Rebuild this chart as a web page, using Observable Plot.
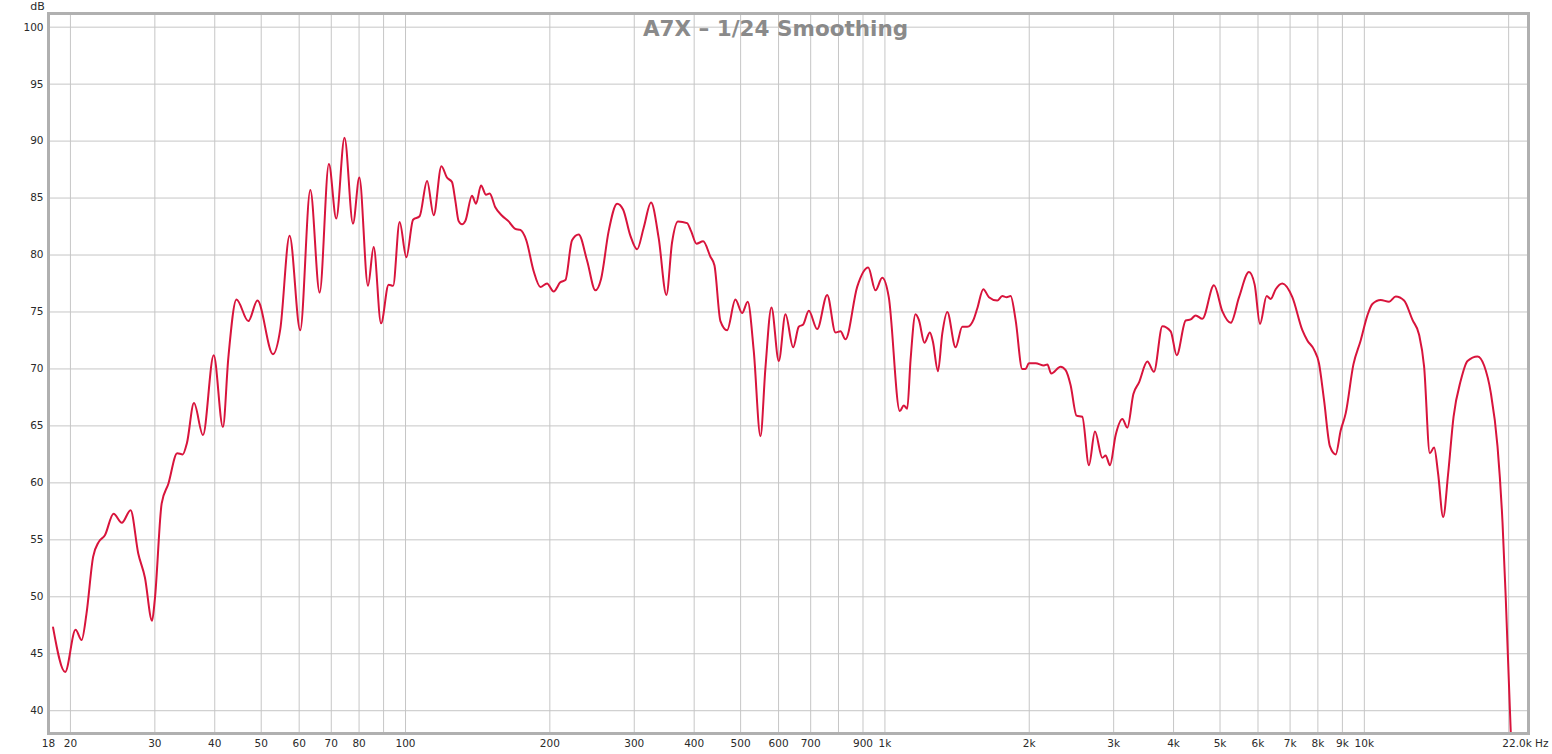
<!DOCTYPE html>
<html><head><meta charset="utf-8">
<script src="https://cdn.jsdelivr.net/npm/d3@7"></script>
<script src="https://cdn.jsdelivr.net/npm/@observablehq/plot@0.6"></script>
<style>
body{margin:0;background:#fff;}
#chart{width:1552px;height:754px;overflow:hidden;}
</style>
</head><body><div id="chart"></div>
<script>
const title = "A7X – 1/24 Smoothing";
const yUnit = "dB";
const xEndLabel = "22.0k Hz";

const freqHz = [18.4,19.5,20.5,21.1,21.6,22.3,22.9,23.6,24.6,25.6,26.7,27.7,28.6,29.6,30.0,31.0,32.0,33.4,34.3,35.0,
36.2,37.8,39.8,41.6,42.7,44.4,47.0,49.1,52.9,54.8,57.3,60.3,63.3,66.2,69.2,71.7,74.6,77.7,80.1,83.5,
85.8,88.9,92.2,94.2,97.2,100.4,103.7,107.0,110.9,114.5,118.8,122.0,125.0,127.0,129.0,131.2,133.3,137.6,140.3,143.7,
147.2,149.8,153.9,159.0,164.1,169.4,173.6,178.6,185.0,191.1,197.3,203.7,210.3,215.5,222.5,229.7,239.2,248.9,255.8,265.3,
276.3,284.3,294.4,304.1,313.9,325.2,337.3,350.1,359.7,370.2,386.6,394.2,404.4,417.6,432.5,440.9,453.8,468.6,487.6,503.6,
517.4,532.5,550.0,563.3,579.8,600.6,620.2,643.5,661.1,675.3,693.7,722.3,757.8,788.6,807.8,827.4,875.2,922.8,955.6,987.0,
1018.6,1074,1095,1113,1131,1158,1177,1209,1241,1259,1290,1317,1349,1404,1450,1485,1533,1558,1604,1648,
1715,1757,1794,1829,1873,1934,1965,1997,2062,2146,2182,2223,2325,2382,2439,2510,2580,2664,2742,2841,
2887,2947,3029,3128,3204,3298,3387,3527,3640,3791,3945,4061,4240,4343,4448,4594,4857,5057,5264,5479,
5745,5905,6058,6256,6378,6533,6745,7076,7425,7605,7852,8042,8238,8478,8714,8926,9143,9489,9826,10148,
10394,10818,11260,11627,12102,12602,13009,13325,13695,13982,14253,14601,14955,15349,15895,16415,17221,17777,18358,18958,
19420,19731,20207,20400];

const levelDb = [47.3,43.4,47.1,46.2,48.5,53.5,54.8,55.4,57.3,56.5,57.6,53.8,51.7,47.9,49.8,58.2,59.9,62.6,62.5,63.5,
67.0,64.2,71.2,64.9,71.0,76.1,74.2,76.0,71.3,73.5,81.7,73.4,85.7,76.7,88.0,83.2,90.3,82.75,86.8,77.3,
80.7,74.0,77.4,77.3,82.9,79.8,83.1,83.4,86.5,83.5,87.8,86.8,86.4,84.8,83.0,82.7,83.0,85.2,84.5,86.1,
85.3,85.4,84.2,83.45,82.95,82.3,82.2,81.3,78.6,77.2,77.5,76.8,77.6,77.8,81.3,81.8,79.5,76.9,77.9,82.1,
84.5,84.0,81.7,80.5,82.4,84.6,81.5,76.5,81.1,82.95,82.8,82.1,81.0,81.2,79.85,79.1,74.2,73.4,76.1,74.9,
75.9,71.6,64.1,70.1,75.4,70.7,74.8,71.9,73.7,73.9,75.1,73.5,76.5,73.2,73.3,72.6,77.2,78.9,76.9,78.0,
76.3,66.3,66.8,66.5,70.8,74.8,74.3,72.3,73.2,72.4,69.8,73.1,75.0,71.9,73.7,73.7,74.4,75.3,77.0,76.3,
76.0,76.4,76.3,76.4,74.3,70.0,70.0,70.5,70.5,70.3,70.4,69.6,70.2,69.9,68.6,65.9,65.8,61.55,64.5,62.2,
62.4,61.55,64.2,65.6,64.85,67.8,68.8,70.65,69.75,73.75,73.3,71.2,74.25,74.35,74.7,74.4,77.35,75.05,74.05,76.3,
78.5,77.4,73.95,76.4,76.15,77.0,77.5,76.3,73.4,72.5,71.7,70.5,67.3,63.2,62.5,64.6,66.1,70.4,72.5,74.7,
75.7,76.05,75.9,76.35,76.0,74.3,73.0,70.2,62.6,63.1,60.8,57.0,60.8,65.8,69.0,70.7,71.1,70.3,67.9,63.2,
56.5,49.7,38.0,34.0];

const xTickValues = [18,20,30,40,50,60,70,80,100,200,300,400,500,600,700,900,1000,2000,3000,4000,5000,6000,7000,8000,9000,10000];
const xGridValues = [20,30,40,50,60,70,80,90,100,200,300,400,500,600,700,800,900,1000,2000,3000,4000,5000,6000,7000,8000,9000,10000,20000];
const yTickValues = [40,45,50,55,60,65,70,75,80,85,90,95,100];
const xDomain = [18,22000];
const yDomain = [38,101.2];

const data = freqHz.map((f,i)=>({f, db: levelDb[i]}));
const fmtHz = v => v >= 1000 ? `${v/1000}k` : `${v}`;
const tickStyle = {fontSize:10.5, fill:"#2a2a2a"};

const plot = Plot.plot({
  width:1552, height:754,
  marginLeft:48, marginRight:24, marginTop:13, marginBottom:21,
  style:{fontFamily:"'DejaVu Sans', sans-serif", fontSize:"10.5px", color:"#222", background:"#fff", overflow:"visible"},
  x:{type:"log", domain:xDomain, axis:null},
  y:{domain:yDomain, axis:null},
  marks:[
    Plot.gridX(xGridValues,{stroke:"#c6c6c6", strokeOpacity:1, strokeWidth:1}),
    Plot.gridY(yTickValues,{stroke:"#c6c6c6", strokeOpacity:1, strokeWidth:1}),
    Plot.axisY(yTickValues,{tickSize:0, tickPadding:5, label:null, ...tickStyle}),
    Plot.text(xTickValues,{x:d=>d, frameAnchor:"bottom", lineAnchor:"top", dy:6, text:fmtHz, ...tickStyle}),
    Plot.text([xDomain[1]],{x:d=>d, frameAnchor:"bottom", lineAnchor:"top", dy:6, dx:20, textAnchor:"end", text:()=>xEndLabel, ...tickStyle}),
    Plot.text([title],{frameAnchor:"top", lineAnchor:"bottom", dy:22, dx:-13, fontWeight:"bold", fontSize:21.5, fill:"#8a8a8a"}),
    Plot.text([yUnit],{frameAnchor:"top-left", textAnchor:"middle", lineAnchor:"bottom", dx:-11, dy:-4, fontSize:11, fill:"#2a2a2a"}),
    Plot.line(data,{x:"f", y:"db", stroke:"#d8143c", strokeWidth:2, curve:"monotone-x", clip:true}),
    Plot.frame({stroke:"#b0b0b0", strokeWidth:3})
  ]
});
document.getElementById("chart").appendChild(plot);
</script>
</body></html>
